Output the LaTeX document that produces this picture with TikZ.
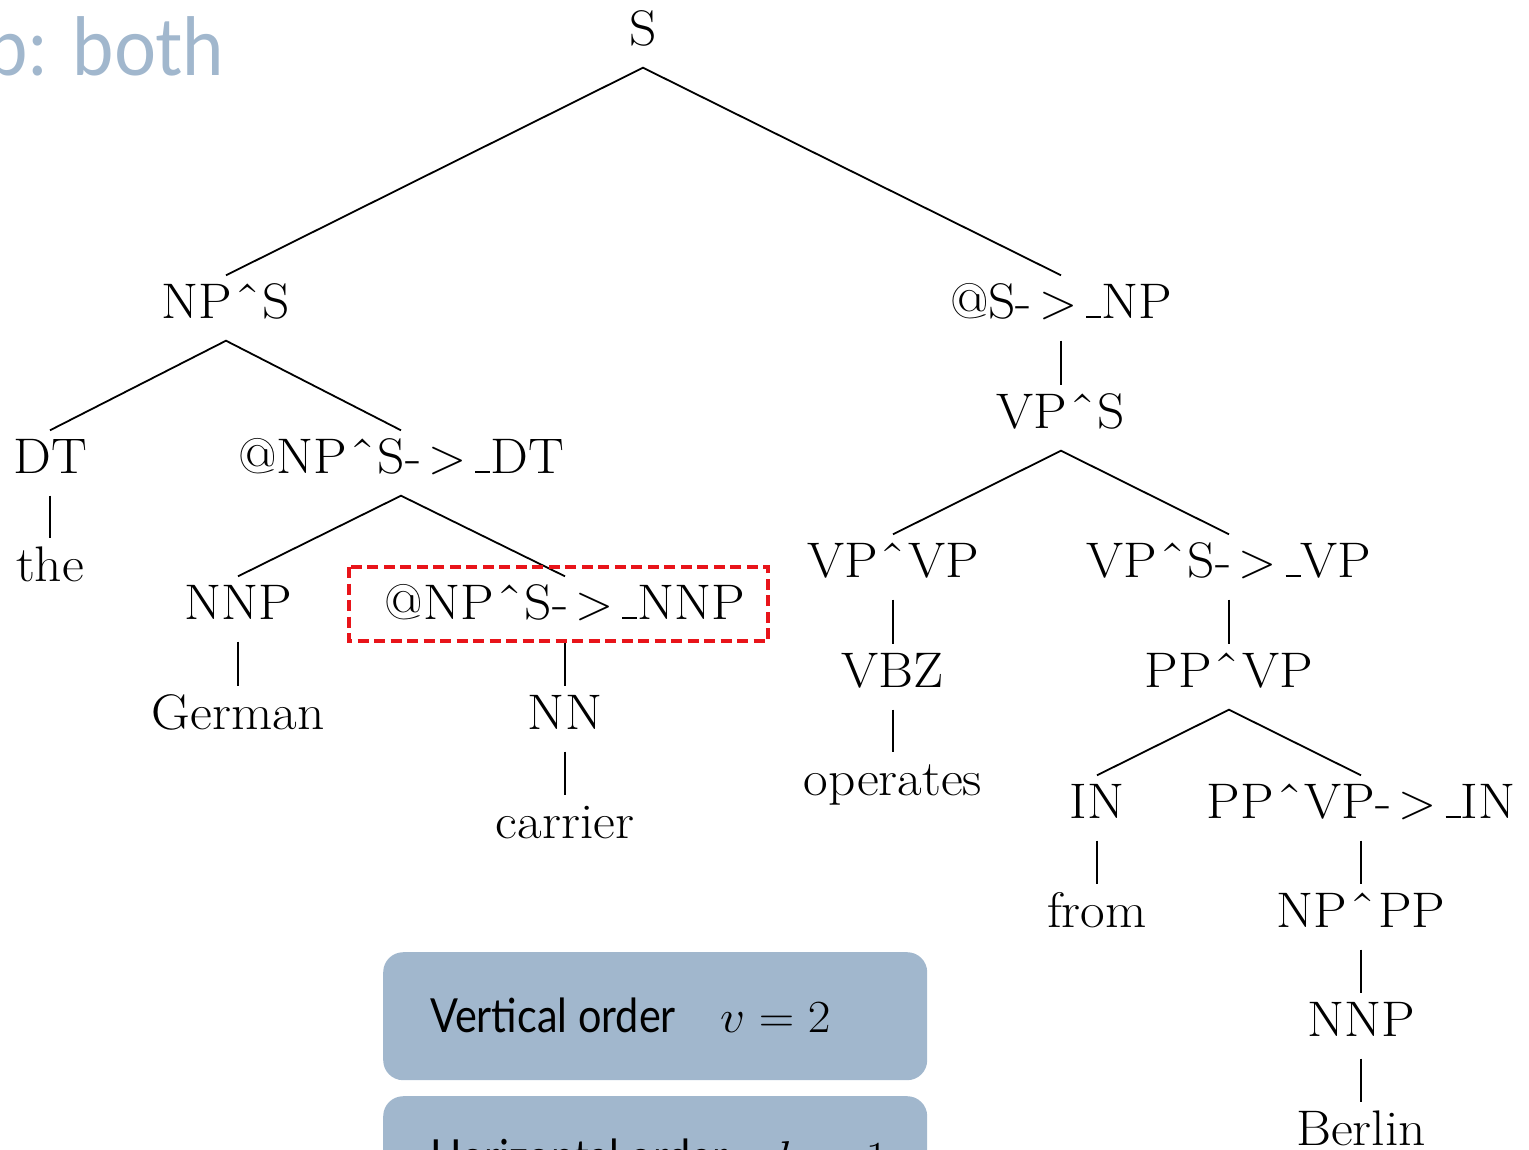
\RequirePackage{fix-cm}
\documentclass[tikz,border=0pt]{standalone}
\usepackage{fontspec}
\setmainfont{Latin Modern Roman}[FakeStretch=1.07]
\newfontfamily\gillfont{Lato}[FakeStretch=0.88]
\newfontfamily\titlefont{Lato}[FakeStretch=0.93]
\definecolor{slate}{RGB}{161,183,205}
\definecolor{dashred}{RGB}{232,20,26}
% small circumflex and short low rule used in the category names
\newcommand\hatc{\kern.06em{\char"02C6}\kern.06em}
\newcommand\usc{\leavevmode\kern.06em\vbox{\hrule width .3em height .04em}}
\newcommand\arr{-\kern.14em$>$\kern.12em\usc}
\newcommand\wide[1]{\scalebox{1.07}[1]{#1}}
\begin{document}
\begin{tikzpicture}[x=1pt,y=-1pt,
  cat/.style={font=\fontsize{50}{60}\selectfont, inner xsep=4pt, inner ysep=7.5pt,
              text height=35pt, text depth=15pt, anchor=base},
  edge/.style={line width=1.8pt},
  focus/.style={draw=dashred, line width=3.2pt, dash pattern=on 11pt off 5.5pt},
  panel/.style={fill=slate, rounded corners=20pt, inner sep=0pt, anchor=north west,
                minimum width=544pt, minimum height=128pt},
  paneltext/.style={anchor=base west, inner sep=0pt, font=\gillfont\fontsize{47}{54}\selectfont},
  panelmath/.style={anchor=base west, inner sep=0pt, font=\fontsize{46}{54}\selectfont}]
\useasboundingbox (0,0) rectangle (1529,1149);
\clip (0,0) rectangle (1529,1149);

% slide title, partly off the left edge
\node[anchor=base east, inner sep=0pt, text=slate, font=\titlefont\fontsize{80}{92}\selectfont]
  (title) at (224,75) {p: both};

% tree nodes
\node[cat] (s)      at (643,45)   {S};
\node[cat] (nps)    at (226,318)  {NP\hatc S};
\node[cat] (snp)    at (1061,318) {@S\arr NP};
\node[cat] (dt)     at (50,473)   {DT};
\node[cat] (npdt)   at (401,473)  {@NP\hatc S\arr DT};
\node[cat] (the)    at (50,581)   {the};
\node[cat] (nnp)    at (238,619)  {NNP};
\node[cat] (npnnp)  at (565,619)  {@NP\hatc S\arr NNP};
\node[cat] (german) at (238,729)  {German};
\node[cat] (nn)     at (565,729)  {NN};
\node[cat] (carrier) at (565,838) {carrier};
\node[cat] (vps)    at (1061,428) {VP\hatc S};
\node[cat] (vpvp)   at (893,577)  {VP\hatc VP};
\node[cat] (vpsvp)  at (1229,577) {VP\hatc S\arr VP};
\node[cat] (vbz)    at (893,687)  {VBZ};
\node[cat] (operates) at (893,795) {operates};
\node[cat] (ppvp)   at (1229,687) {PP\hatc VP};
\node[cat] (in)     at (1097,818) {IN};
\node[cat] (ppvpin) at (1361,818) {PP\hatc VP\arr IN};
\node[cat] (from)   at (1097,927) {from};
\node[cat] (nppp)   at (1361,927) {NP\hatc PP};
\node[cat] (nnpb)   at (1361,1036) {NNP};
\node[cat] (berlin) at (1361,1145) {Berlin};

% tree edges
\draw[edge] (nps.north) -- (s.south) -- (snp.north);
\draw[edge] (dt.north) -- (nps.south) -- (npdt.north);
\draw[edge] (dt.south) -- (the.north);
\draw[edge] (nnp.north) -- (npdt.south) -- (npnnp.north);
\draw[edge] (nnp.south) -- (german.north);
\draw[edge] (npnnp.south) -- (nn.north);
\draw[edge] (nn.south) -- (carrier.north);
\draw[edge] (snp.south) -- (vps.north);
\draw[edge] (vpvp.north) -- (vps.south) -- (vpsvp.north);
\draw[edge] (vpvp.south) -- (vbz.north);
\draw[edge] (vbz.south) -- (operates.north);
\draw[edge] (vpsvp.south) -- (ppvp.north);
\draw[edge] (in.north) -- (ppvp.south) -- (ppvpin.north);
\draw[edge] (in.south) -- (from.north);
\draw[edge] (ppvpin.south) -- (nppp.north);
\draw[edge] (nppp.south) -- (nnpb.north);
\draw[edge] (nnpb.south) -- (berlin.north);

% highlighted category
\draw[focus] (349,567) rectangle (768,641);

% info panels
\node[panel] (vpanel) at (383,952) {};
\node[paneltext] (vtext) at (430,1032) {Vertical order};
\node[panelmath] (vmath) at (720,1032) {\wide{$v=2$}};

\node[panel] (hpanel) at (383,1096) {};
\node[paneltext] (htext) at (430,1173) {Horizontal order};
\node[panelmath] (hmath) at (775,1173) {\wide{$h=1$}};
\end{tikzpicture}
\end{document}
